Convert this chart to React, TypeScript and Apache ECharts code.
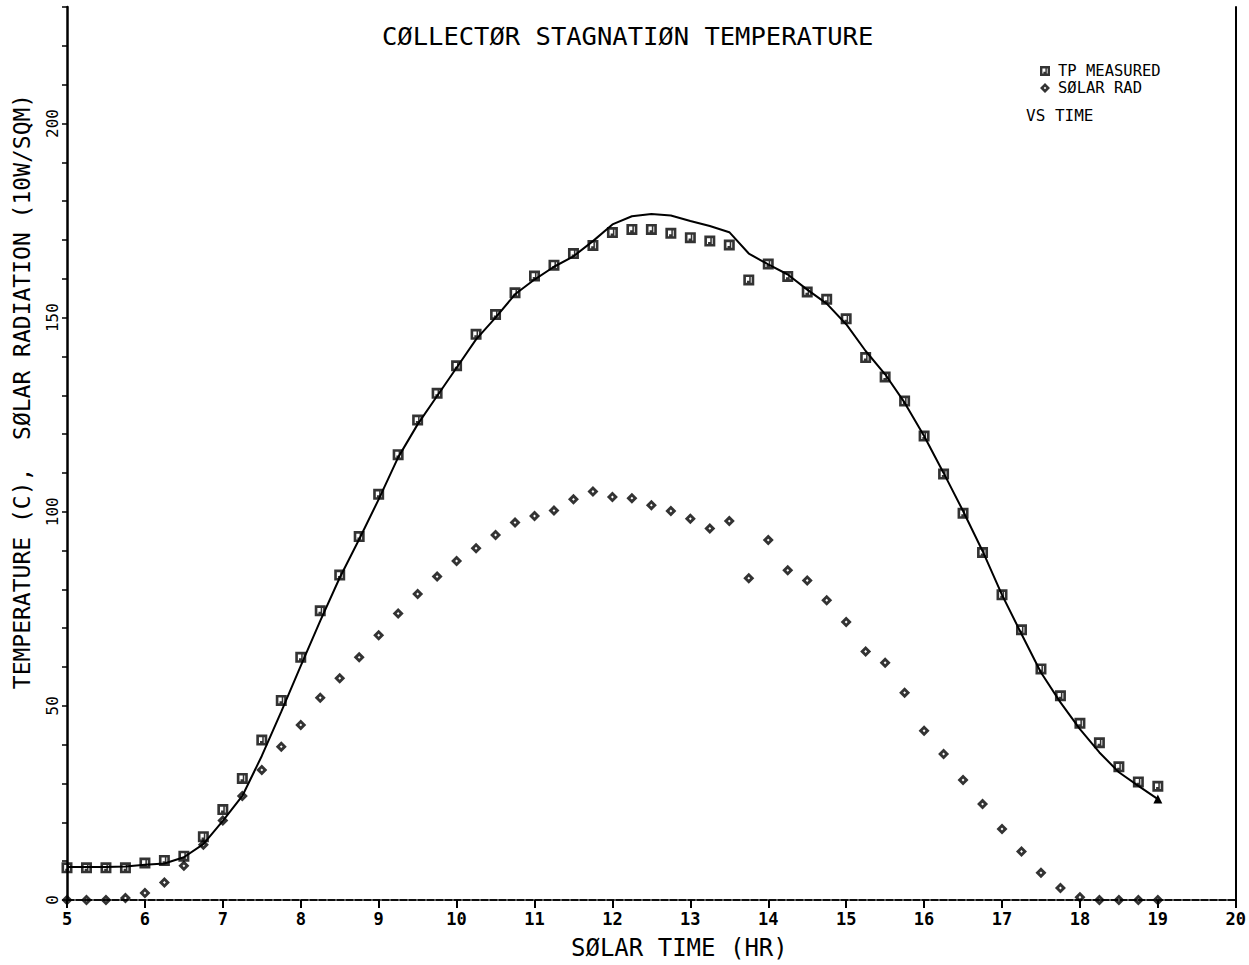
import React, { useEffect, useRef } from "react";
import * as echarts from "echarts";

// Solar time (hr), sampled every quarter hour
const hours = [
  5, 5.25, 5.5, 5.75, 6, 6.25, 6.5, 6.75, 7, 7.25, 7.5, 7.75, 8, 8.25, 8.5, 8.75,
  9, 9.25, 9.5, 9.75, 10, 10.25, 10.5, 10.75, 11, 11.25, 11.5, 11.75, 12, 12.25,
  12.5, 12.75, 13, 13.25, 13.5, 13.75, 14, 14.25, 14.5, 14.75, 15, 15.25, 15.5,
  15.75, 16, 16.25, 16.5, 16.75, 17, 17.25, 17.5, 17.75, 18, 18.25, 18.5, 18.75, 19,
];

// Measured plate temperature (C)
const tpMeasured = [
  8.3, 8.3, 8.3, 8.3, 9.5, 10.2, 11.3, 16.3, 23.3, 31.3, 41.2, 51.4, 62.5, 74.5,
  83.7, 93.6, 104.5, 114.7, 123.6, 130.5, 137.6, 145.7, 150.8, 156.4, 160.7, 163.5,
  166.5, 168.6, 171.9, 172.7, 172.7, 171.7, 170.6, 169.7, 168.7, 159.7, 163.8,
  160.6, 156.6, 154.7, 149.7, 139.7, 134.7, 128.5, 119.5, 109.7, 99.6, 89.5, 78.6,
  69.6, 59.5, 52.6, 45.5, 40.5, 34.3, 30.4, 29.3,
];

// Solar radiation (10 W/sqm)
const solarRad = [
  0, 0, 0, 0.5, 1.8, 4.5, 8.8, 14.2, 20.5, 26.8, 33.5, 39.5, 45.1, 52.1, 57.1, 62.5,
  68.2, 73.8, 78.8, 83.3, 87.3, 90.6, 94.0, 97.2, 98.9, 100.3, 103.2, 105.2, 103.8,
  103.5, 101.7, 100.2, 98.2, 95.7, 97.6, 82.9, 92.7, 84.9, 82.3, 77.2, 71.6, 64.0,
  61.1, 53.4, 43.6, 37.6, 30.9, 24.7, 18.3, 12.5, 7.0, 3.1, 0.7, 0, 0, 0, 0,
];

// Computed plate temperature (C)
const tpComputed = [
  8.5, 8.5, 8.5, 8.6, 9.1, 9.4, 11.0, 14.4, 20.4, 26.8, 37.1, 48.5, 60.3, 71.9,
  83.0, 92.9, 103.2, 114.0, 122.5, 129.8, 137.1, 144.4, 150.0, 156.0, 159.8, 163.1,
  165.8, 169.7, 174.0, 176.1, 176.7, 176.3, 174.9, 173.6, 172.0, 166.5, 163.7,
  161.1, 157.2, 153.6, 148.3, 141.4, 135.4, 128.1, 119.5, 110.0, 100.2, 89.9, 78.6,
  68.5, 58.6, 50.9, 44.0, 38.0, 32.9, 29.4, 26.0,
];

const yLabelValues = [0, 50, 100, 150, 200];

const MONO = '"DejaVu Sans Mono", "Liberation Mono", monospace';
const INK = "#000";

// Plotter-style marks: heavy open square with a stroke inside, and heavy open diamond
const SQUARE_SYMBOL =
  "path://M0,0 H10 V10 H0 Z M2.4,2.4 V7.6 H7.6 V2.4 Z M5.4,2.4 H6.8 V6 H5.4 Z M3.4,5.8 H6.8 V7.6 H3.4 Z";
const DIAMOND_SYMBOL = "path://M5,0 L10,5 L5,10 L0,5 Z M5,3.7 L3.7,5 L5,6.3 L6.3,5 Z";

export default function App() {
  const ref = useRef<HTMLDivElement>(null);

  useEffect(() => {
    if (!ref.current) return;
    const chart = echarts.init(ref.current, undefined, { renderer: "svg" });

    const computedData: any[] = hours.map((h, i) => [h, tpComputed[i]]);
    const last = computedData.length - 1;
    computedData[last] = {
      value: computedData[last],
      symbol: "triangle",
      symbolSize: 9,
    };

    chart.setOption({
      animation: false,
      backgroundColor: "#ffffff",
      title: {
        text: "CØLLECTØR STAGNATIØN TEMPERATURE",
        left: 377,
        top: 18,
        textStyle: { fontFamily: MONO, fontSize: 25.5, fontWeight: "normal", color: INK },
      },
      legend: {
        data: ["TP MEASURED", "SØLAR RAD"],
        orient: "vertical",
        left: 1035,
        top: 58,
        itemWidth: 16,
        itemHeight: 10,
        itemGap: 1,
        textStyle: { fontFamily: MONO, fontSize: 15.5, color: INK, lineHeight: 15 },
      },
      graphic: [
        {
          type: "text",
          left: 1026,
          top: 107,
          style: { text: "VS TIME", font: `16px ${MONO}`, fill: INK },
        },
      ],
      grid: { left: 67, right: 12, top: 7, bottom: 64 },
      xAxis: [
        {
          type: "value",
          position: "bottom",
          min: 5,
          max: 20,
          interval: 1,
          axisLine: { lineStyle: { color: INK, width: 1.5, type: [7, 2] } },
          axisTick: { inside: false, length: 8, lineStyle: { color: INK, width: 2 } },
          axisLabel: {
            fontFamily: MONO,
            fontSize: 17,
            fontWeight: "bold",
            color: INK,
            margin: 10,
          },
          splitLine: { show: false },
          name: "SØLAR TIME (HR)",
          nameLocation: "middle",
          nameGap: 36,
          nameTextStyle: {
            fontFamily: MONO,
            fontSize: 24,
            color: INK,
            padding: [0, 0, 0, 56],
          },
        },
        {
          type: "value",
          position: "top",
          min: 5,
          max: 20,
          interval: 1,
          axisLine: { lineStyle: { color: INK, width: 1.5, type: [7, 2] } },
          axisTick: { show: false },
          axisLabel: { show: false },
          splitLine: { show: false },
        },
      ],
      yAxis: [
        {
          type: "value",
          position: "left",
          min: 0,
          max: 230,
          interval: 10,
          axisLine: { show: true, lineStyle: { color: INK, width: 2.5 } },
          axisTick: { show: true, inside: false, length: 5, lineStyle: { color: INK, width: 1.5 } },
          axisLabel: {
            rotate: 90,
            fontFamily: MONO,
            fontSize: 16,
            color: INK,
            margin: 7,
            formatter: (v: number) => (yLabelValues.includes(v) ? String(v) : ""),
          },
          splitLine: { show: false },
          name: "TEMPERATURE (C),  SØLAR RADIATION (10W/SQM)",
          nameLocation: "middle",
          nameGap: 34,
          nameRotate: 90,
          nameTextStyle: {
            fontFamily: MONO,
            fontSize: 23,
            color: INK,
            padding: [0, 0, 0, 124],
          },
        },
        {
          type: "value",
          position: "right",
          min: 0,
          max: 230,
          interval: 10,
          axisLine: { show: true, lineStyle: { color: INK, width: 2 } },
          axisTick: { show: false },
          axisLabel: { show: false },
          splitLine: { show: false },
        },
      ],
      series: [
        {
          name: "TP COMPUTED",
          type: "line",
          data: computedData,
          symbol: "none",
          showSymbol: true,
          lineStyle: { color: INK, width: 2 },
          itemStyle: { color: INK },
          z: 2,
        },
        {
          name: "TP MEASURED",
          type: "scatter",
          data: hours.map((h, i) => [h, tpMeasured[i]]),
          symbol: SQUARE_SYMBOL,
          symbolSize: 11,
          itemStyle: { color: INK },
          z: 3,
        },
        {
          name: "SØLAR RAD",
          type: "scatter",
          data: hours.map((h, i) => [h, solarRad[i]]),
          symbol: DIAMOND_SYMBOL,
          symbolSize: 11,
          itemStyle: { color: INK },
          z: 3,
        },
      ],
    });

    return () => chart.dispose();
  }, []);

  return (
    <div
      ref={ref}
      style={{ position: "absolute", left: 0, top: 0, width: 1249, height: 965, background: "#fff" }}
    />
  );
}
